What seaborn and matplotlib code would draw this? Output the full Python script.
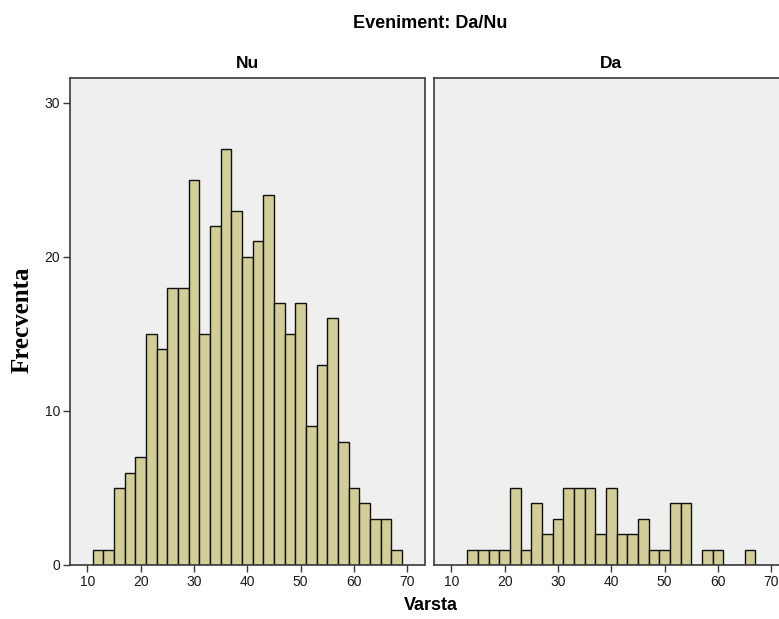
import numpy as np
import pandas as pd
import matplotlib
matplotlib.use("Agg")
import matplotlib.pyplot as plt
import seaborn as sns

sns.set_style("white")
plt.rcParams['font.family'] = ['Liberation Sans', 'DejaVu Sans']
plt.rcParams['text.color'] = 'black'
plt.rcParams['axes.titlecolor'] = 'black'

# Data: histogram bins (width 2) and counts per panel
bin_width = 2
nu_bin_starts = [11, 13, 15, 17, 19, 21, 23, 25, 27, 29, 31, 33, 35, 37, 39,
                 41, 43, 45, 47, 49, 51, 53, 55, 57, 59, 61, 63, 65, 67]
nu_counts = [1, 1, 5, 6, 7, 15, 14, 18, 18, 25, 15, 22, 27, 23, 20,
             21, 24, 17, 15, 17, 9, 13, 16, 8, 5, 4, 3, 3, 1]
da_bin_starts = [13, 15, 17, 19, 21, 23, 25, 27, 29, 31, 33, 35, 37, 39,
                 41, 43, 45, 47, 49, 51, 53, 55, 57, 59, 61, 63, 65]
da_counts = [1, 1, 1, 1, 5, 1, 4, 2, 3, 5, 5, 5, 2, 5,
             2, 2, 3, 1, 1, 4, 4, 0, 1, 1, 0, 0, 1]
panel_titles = ["Nu", "Da"]
x_ticks = [10, 20, 30, 40, 50, 60, 70]
y_ticks = [0, 10, 20, 30]

bar_color = "#D3CE98"
face = "#EFEFEF"
spine_col = "#3a3a3a"

fig = plt.figure(figsize=(7.79, 6.19), dpi=100)
W, H = 779, 619
ax_w = 354.5 / W
ax_h = 487 / H
ax1 = fig.add_axes([70 / W, (H - 565) / H, ax_w, ax_h])
ax2 = fig.add_axes([434 / W, (H - 565) / H, ax_w, ax_h])

for ax, starts, counts, title in [(ax1, nu_bin_starts, nu_counts, panel_titles[0]),
                                  (ax2, da_bin_starts, da_counts, panel_titles[1])]:
    df = pd.DataFrame({"Varsta": np.array(starts) + bin_width / 2,
                       "n": counts})
    edges = list(starts) + [starts[-1] + bin_width]
    sns.histplot(data=df, x="Varsta", weights="n", bins=edges, ax=ax,
                 color=bar_color, edgecolor="#111111", linewidth=1.0, alpha=1)
    ax.set_facecolor(face)
    ax.set_xlim(6.75, 73.25)
    ax.set_ylim(0, 31.6)
    ax.set_xticks(x_ticks)
    ax.set_xlabel("")
    ax.set_ylabel("")
    ax.grid(False)
    for s in ax.spines.values():
        s.set_color(spine_col)
        s.set_linewidth(1.2)
    ax.tick_params(axis="x", direction="out", length=5, width=1, color=spine_col,
                   labelsize=10, labelcolor="#1a1a1a", pad=2, bottom=True)
    ax.set_title(title, fontsize=12.5, fontweight="bold", pad=7, color="black")

ax1.set_yticks(y_ticks)
ax1.tick_params(axis="y", direction="out", length=5, width=1, color=spine_col,
                labelsize=10, labelcolor="#1a1a1a", pad=2, left=True)
ax2.set_yticks(y_ticks)
ax2.tick_params(axis="y", left=False, labelleft=False)

fig.text(430 / W, 1 - 24 / H, "Eveniment: Da/Nu", ha="center", va="center",
         fontsize=13, fontweight="bold", color="black")
fig.text(431 / W, 1 - 606 / H, "Varsta", ha="center", va="center",
         fontsize=13, fontweight="bold", color="black")
fig.text(22 / W, 1 - 320 / H, "Frecventa", ha="center", va="center",
         rotation=90, fontsize=18, fontweight="bold", color="black",
         family=["Liberation Serif", "DejaVu Serif"])

fig.savefig("out.png", dpi=100)
